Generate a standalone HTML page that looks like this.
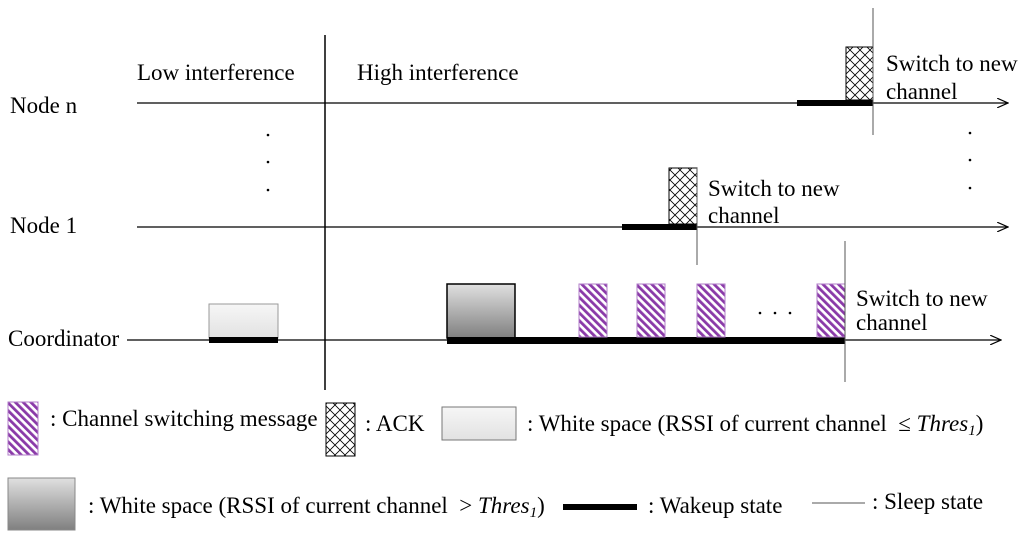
<!DOCTYPE html>
<html><head><meta charset="utf-8"><style>html,body{margin:0;padding:0;background:#fff}svg{display:block}text{font-family:"Liberation Serif",serif;font-size:23px;fill:#000}</style></head>
<body>
<svg width="1024" height="537" viewBox="0 0 1024 537">
<defs>
<pattern id="stripe" width="5.5" height="5.5" patternUnits="userSpaceOnUse" patternTransform="rotate(-45)"><rect width="5.5" height="5.5" fill="#fff"/><rect width="2.8" height="5.5" fill="#8a3aa8"/></pattern>
<pattern id="cross" width="10" height="10" patternUnits="userSpaceOnUse"><rect width="10" height="10" fill="#fff"/><path d="M0 0L10 10M10 0L0 10" stroke="#000" stroke-width="0.8"/></pattern>
<linearGradient id="grad" x1="0" y1="0" x2="0" y2="1"><stop offset="0" stop-color="#e0e0e0"/><stop offset="1" stop-color="#808080"/></linearGradient>
<linearGradient id="light" x1="0" y1="0" x2="0" y2="1"><stop offset="0" stop-color="#f6f6f6"/><stop offset="1" stop-color="#e2e2e2"/></linearGradient>
<marker id="arr" markerWidth="10" markerHeight="8" refX="9" refY="4" orient="auto"><path d="M0 0L9 4L0 8" fill="none" stroke="#000" stroke-width="1"/></marker>
</defs>
<line x1="325" y1="35" x2="325" y2="390" stroke="#000" stroke-width="1.5"/>
<text x="137" y="80">Low interference</text>
<text x="357" y="80">High interference</text>
<g>
<text x="10" y="113">Node n</text>
<line x1="137" y1="103" x2="1008" y2="103" stroke="#000" stroke-width="1.2" marker-end="url(#arr)"/>
<rect x="797" y="100" width="76" height="6" fill="#000"/>
<rect x="846" y="47" width="27" height="53" fill="url(#cross)" stroke="#000"/>
<line x1="873" y1="8" x2="873" y2="135" stroke="#555" stroke-width="1"/>
<text x="886" y="71">Switch to new</text><text x="886" y="99">channel</text>
</g>
<g fill="#000">
<circle cx="268" cy="135" r="1.3"/><circle cx="268" cy="162" r="1.3"/><circle cx="268" cy="190" r="1.3"/>
<circle cx="970" cy="133" r="1.3"/><circle cx="970" cy="160" r="1.3"/><circle cx="970" cy="188" r="1.3"/>
</g>
<g>
<text x="10" y="233">Node 1</text>
<line x1="137" y1="227" x2="1008" y2="227" stroke="#000" stroke-width="1.2" marker-end="url(#arr)"/>
<rect x="622" y="224" width="75" height="6" fill="#000"/>
<rect x="669" y="168" width="28" height="56" fill="url(#cross)" stroke="#000"/>
<line x1="697" y1="168" x2="697" y2="265" stroke="#555" stroke-width="1"/>
<text x="708" y="196">Switch to new</text><text x="708" y="223">channel</text>
</g>
<g>
<text x="8" y="346">Coordinator</text>
<line x1="127" y1="340" x2="1001" y2="340" stroke="#000" stroke-width="1.2" marker-end="url(#arr)"/>
<rect x="209" y="304" width="69" height="34" fill="url(#light)" stroke="#999"/>
<rect x="209" y="337" width="69" height="6" fill="#000"/>
<rect x="447" y="284" width="68" height="54" fill="url(#grad)" stroke="#000" stroke-width="1.5"/>
<rect x="447" y="337" width="398" height="7" fill="#000"/>
<rect x="579" y="284" width="28" height="53" fill="url(#stripe)" stroke="#b07cc8"/>
<rect x="637" y="284" width="28" height="53" fill="url(#stripe)" stroke="#b07cc8"/>
<rect x="697" y="284" width="28" height="53" fill="url(#stripe)" stroke="#b07cc8"/>
<rect x="817" y="284" width="28" height="53" fill="url(#stripe)" stroke="#b07cc8"/>
<circle cx="760" cy="313" r="1.3"/><circle cx="775" cy="313" r="1.3"/><circle cx="790" cy="313" r="1.3"/>
<line x1="845" y1="241" x2="845" y2="382" stroke="#555" stroke-width="1"/>
<text x="856" y="306">Switch to new</text><text x="856" y="330">channel</text>
</g>
<g>
<rect x="8" y="402" width="30" height="53" fill="url(#stripe)" stroke="#b07cc8"/>
<text x="50" y="426">: Channel switching message</text>
<rect x="326" y="403" width="29" height="53" fill="url(#cross)" stroke="#000"/>
<text x="365" y="431">: ACK</text>
<rect x="442" y="407" width="74" height="33" fill="url(#light)" stroke="#777"/>
<text x="527" y="431" xml:space="preserve">: White space (RSSI of current channel  ≤ <tspan font-style="italic">Thres</tspan><tspan font-style="italic" font-size="15" dy="4">1</tspan><tspan dy="-4">)</tspan></text>
<rect x="8" y="478" width="67" height="52" fill="url(#grad)" stroke="#888"/>
<text x="88" y="513" xml:space="preserve">: White space (RSSI of current channel  &gt; <tspan font-style="italic">Thres</tspan><tspan font-style="italic" font-size="15" dy="4">1</tspan><tspan dy="-4">)</tspan></text>
<rect x="563" y="504" width="74" height="6" fill="#000"/>
<text x="648" y="513">: Wakeup state</text>
<line x1="812" y1="503" x2="865" y2="503" stroke="#555" stroke-width="1"/>
<text x="872" y="509">: Sleep state</text>
</g>
</svg>
</body></html>
